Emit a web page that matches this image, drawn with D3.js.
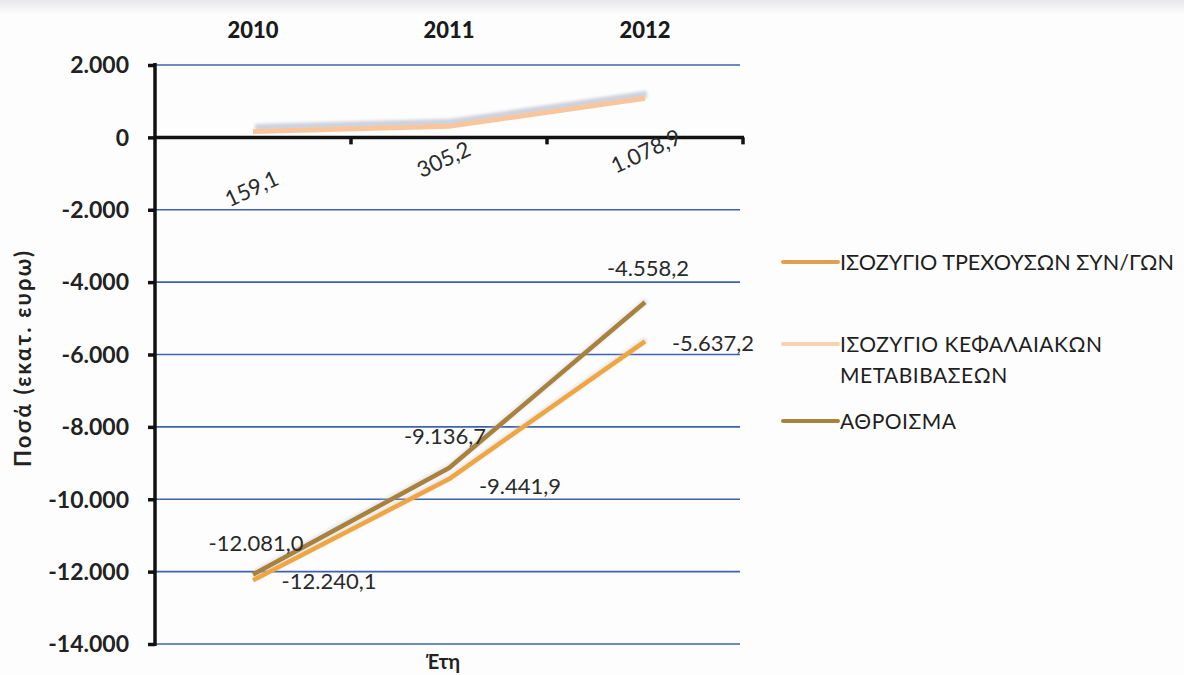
<!DOCTYPE html>
<html>
<head>
<meta charset="utf-8">
<script src="https://cdn.jsdelivr.net/npm/d3@7"></script>
<style>
  html, body { margin: 0; padding: 0; background: #fdfdfd; }
  svg { display: block; }
  text { font-family: Lato, "Open Sans", "DejaVu Sans", sans-serif; }
</style>
</head>
<body>
<svg id="chart" width="1184" height="675"></svg>
<script>
// Years shown along the top of the chart
const years = ["2010", "2011", "2012"];

// Series values (million euro)
const currentAccount = [-12240.1, -9441.9, -5637.2];
const capitalTransfers = [159.1, 305.2, 1078.9];
const total = [-12081.0, -9136.7, -4558.2];

// Y axis ticks
const yTicks = [2000, 0, -2000, -4000, -6000, -8000, -10000, -12000, -14000];

const seriesNames = [
  "ΙΣΟΖΥΓΙΟ ΤΡΕΧΟΥΣΩΝ ΣΥΝ/ΓΩΝ",
  "ΙΣΟΖΥΓΙΟ ΚΕΦΑΛΑΙΑΚΩΝ ΜΕΤΑΒΙΒΑΣΕΩΝ",
  "ΑΘΡΟΙΣΜΑ"
];

const fmt = v => {
  const s = d3.format(",.1f")(v);
  return s.replace(/,/g, "#").replace(/\./g, ",").replace(/#/g, ".").replace("−", "-");
};
const fmtTick = v => d3.format(",")(v).replace(/,/g, ".").replace("−", "-");

const svg = d3.select("#chart");
const plotLeft = 155, plotRight = 743, plotTop = 65, plotBottom = 644;

const x = d3.scaleBand().domain(years).range([plotLeft, plotRight]);
const y = d3.scaleLinear().domain([-14000, 2000]).range([plotBottom, plotTop]);
const cx = d => x(d) + x.bandwidth() / 2;

const defs = svg.append("defs");
const sh = defs.append("filter").attr("id", "soft").attr("x", "-10%").attr("y", "-50%").attr("width", "120%").attr("height", "200%");
sh.append("feGaussianBlur").attr("stdDeviation", 1.6);
const glow = defs.append("filter").attr("id", "blur1").attr("x", "-10%").attr("y", "-50%").attr("width", "120%").attr("height", "200%");
glow.append("feGaussianBlur").attr("stdDeviation", 0.6);

// Faint top band
const bg = defs.append("linearGradient").attr("id", "topband").attr("x1", 0).attr("x2", 0).attr("y1", 0).attr("y2", 1);
bg.append("stop").attr("offset", 0).attr("stop-color", "#e8e8ea");
bg.append("stop").attr("offset", 1).attr("stop-color", "#fdfdfd");
svg.append("rect").attr("width", 1184).attr("height", 14).attr("fill", "url(#topband)");

// Gridlines
svg.append("g").selectAll("line").data(yTicks.filter(t => t !== 0)).join("line")
  .attr("x1", plotLeft).attr("x2", plotRight - 3)
  .attr("y1", d => y(d)).attr("y2", d => y(d))
  .attr("stroke", "#3f62b0").attr("stroke-width", 1.6);

// Y axis
const yAxis = svg.append("g").attr("transform", `translate(${plotLeft},0)`)
  .call(d3.axisLeft(y).tickValues(yTicks).tickFormat(fmtTick).tickSize(7).tickPadding(19));
yAxis.select(".domain").attr("stroke", "#111").attr("stroke-width", 3.5).attr("d", `M0,${plotTop - 2}V${plotBottom + 2}`);
yAxis.selectAll(".tick line").attr("stroke", "#111").attr("stroke-width", 3.5);
yAxis.selectAll(".tick text").attr("fill", "#222").attr("font-size", 23).attr("font-weight", "bold")
  .attr("dy", "0.34em");

// Zero axis with category ticks
const zeroY = y(0);
svg.append("line").attr("x1", plotLeft).attr("x2", plotRight + 1).attr("y1", zeroY).attr("y2", zeroY)
  .attr("stroke", "#111").attr("stroke-width", 3.5);
svg.append("g").selectAll("line").data(years).join("line")
  .attr("x1", d => x(d) + x.bandwidth()).attr("x2", d => x(d) + x.bandwidth())
  .attr("y1", zeroY).attr("y2", zeroY + 7)
  .attr("stroke", "#111").attr("stroke-width", 3.5);

// Year labels at top
svg.append("g").selectAll("text").data(years).join("text")
  .attr("x", d => cx(d)).attr("y", 38)
  .attr("text-anchor", "middle").attr("font-size", 22).attr("font-weight", "900").attr("fill", "#1a1a1a")
  .text(d => d);

// Axis titles
svg.append("text").attr("transform", `translate(31,${359}) rotate(-90)`)
  .attr("text-anchor", "middle").attr("font-size", 22).attr("font-weight", "bold").attr("fill", "#222")
  .attr("textLength", 216).attr("lengthAdjust", "spacing")
  .text("Ποσά (εκατ. ευρω)");
svg.append("text").attr("x", 443).attr("y", 669)
  .attr("text-anchor", "middle").attr("font-size", 20).attr("font-weight", "bold").attr("fill", "#222")
  .text("Έτη");

const line = d3.line().x((d, i) => cx(years[i])).y(d => y(d));

const series = [
  { values: capitalTransfers, color: "#f8c69a", shadow: "#b9bfd0", w: 5, sdx: 2, sdy: -4, sop: 0.7 },
  { values: currentAccount, color: "#f0a640", shadow: "#c0c4d0", w: 4.5, sdx: 1.5, sdy: -2, sop: 0.4 },
  { values: total, color: "#a8823e", shadow: "#c0c4d0", w: 4.5, sdx: 1.5, sdy: -2, sop: 0.4 }
];

series.forEach(s => {
  svg.append("path").datum(s.values).attr("d", line)
    .attr("transform", `translate(${s.sdx},${s.sdy})`)
    .attr("fill", "none").attr("stroke", s.shadow).attr("stroke-width", s.w + 2)
    .attr("opacity", s.sop).attr("filter", "url(#soft)");
  svg.append("path").datum(s.values).attr("d", line)
    .attr("fill", "none").attr("stroke", s.color).attr("stroke-width", s.w)
    .attr("stroke-linejoin", "round").attr("filter", "url(#blur1)");
});

// Data labels
const lblFont = 22;
const lbl = (xv, yv, txt, anchor, rot) => {
  const t = svg.append("text").attr("font-size", lblFont).attr("fill", "#2a2a2a").attr("text-anchor", anchor || "middle").text(txt);
  if (rot) t.attr("transform", `translate(${xv},${yv}) rotate(${rot})`);
  else t.attr("x", xv).attr("y", yv);
};

// capital transfers labels (rotated, below the zero axis)
const capOffsets = [64, 40, 60];
const capShift = [2, -2, 4];
capitalTransfers.forEach((v, i) => {
  lbl(cx(years[i]) + capShift[i], y(v) + capOffsets[i], fmt(v), "middle", -25);
});

// current account labels
lbl(cx(years[0]) + 76, y(currentAccount[0]) + 9, fmt(currentAccount[0]), "middle");
lbl(cx(years[1]) + 71, y(currentAccount[1]) + 15, fmt(currentAccount[1]), "middle");
lbl(cx(years[2]) + 68, y(currentAccount[2]) + 10, fmt(currentAccount[2]), "middle");

// total labels
lbl(cx(years[0]) + 3, y(total[0]) - 24, fmt(total[0]), "middle");
lbl(cx(years[1]) - 4, y(total[1]) - 24, fmt(total[1]), "middle");
lbl(cx(years[2]) + 3, y(total[2]) - 26, fmt(total[2]), "middle");

// Legend
const legend = [
  { y: 262, color: "#e0a052", lines: [seriesNames[0]], op: 1, len: 334 },
  { y: 344, color: "#f6c7a0", lines: ["ΙΣΟΖΥΓΙΟ ΚΕΦΑΛΑΙΑΚΩΝ", "ΜΕΤΑΒΙΒΑΣΕΩΝ"], op: 0.8 },
  { y: 421, color: "#a8823e", lines: [seriesNames[2]], op: 1 }
];
legend.forEach(l => {
  svg.append("line").attr("x1", 783).attr("x2", 838).attr("y1", l.y).attr("y2", l.y)
    .attr("stroke", l.color).attr("stroke-width", 4).attr("stroke-linecap", "round").attr("opacity", l.op);
  l.lines.forEach((t, k) => {
    const tx = svg.append("text").attr("x", 840).attr("y", l.y + 8 + k * 31)
      .attr("font-size", 21).attr("fill", "#1e1e1e").text(t);
    if (l.len) tx.attr("textLength", l.len).attr("lengthAdjust", "spacingAndGlyphs");
    else tx.attr("letter-spacing", 0.5);
  });
});
</script>
</body>
</html>
